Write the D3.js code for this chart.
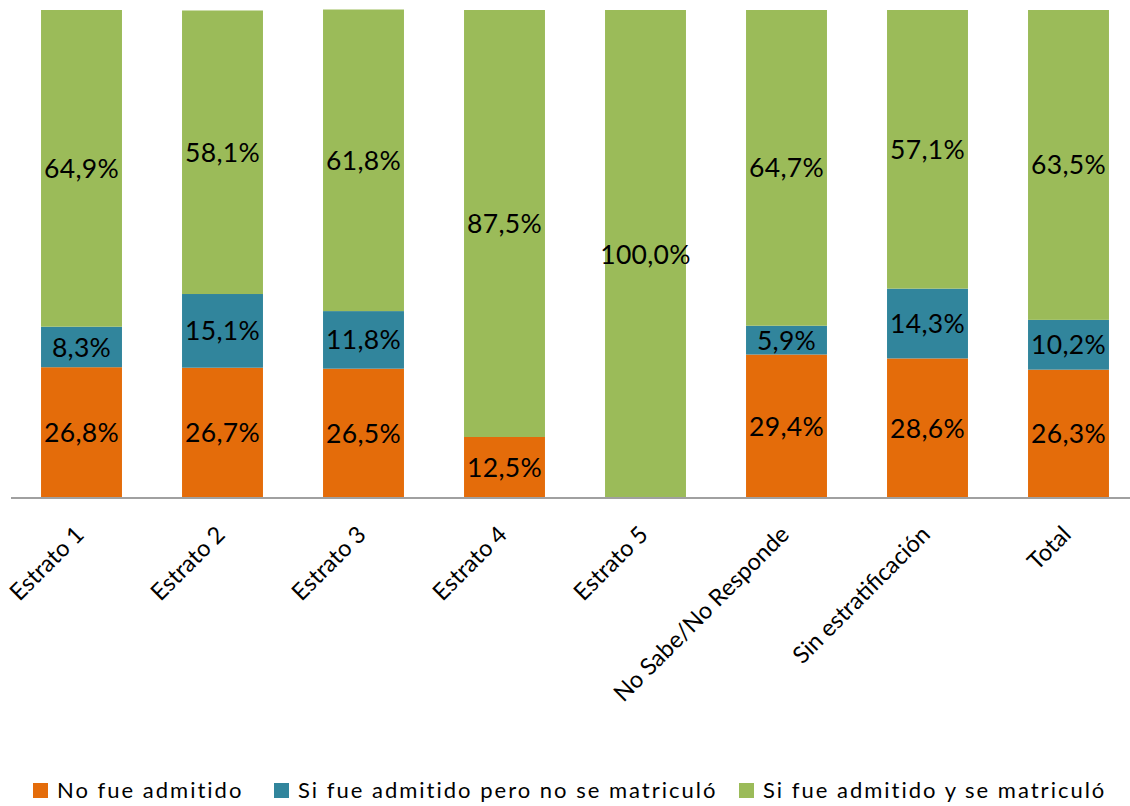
<!DOCTYPE html>
<html><head><meta charset="utf-8">
<script src="https://d3js.org/d3.v7.min.js"></script>
<style>
html,body{margin:0;padding:0;background:#fff;}
svg{display:block;font-family:Lato,"Noto Sans",sans-serif;}
</style></head>
<body>
<svg id="c" width="1130" height="806"></svg>
<script>
const categories = ["Estrato 1","Estrato 2","Estrato 3","Estrato 4","Estrato 5","No Sabe/No Responde","Sin estratificación","Total"];
const seriesNames = ["No fue admitido","Si fue admitido pero no se matriculó","Si fue admitido y se matriculó"];
const noAdmitido = [26.8,26.7,26.5,12.5,0,29.4,28.6,26.3];
const admitidoNoMatriculo = [8.3,15.1,11.8,0,0,5.9,14.3,10.2];
const admitidoMatriculo = [64.9,58.1,61.8,87.5,100,64.7,57.1,63.5];
const colors = ["#E46C0A","#31859C","#9BBB59"];

const seriesValues = [noAdmitido, admitidoNoMatriculo, admitidoMatriculo];
const table = categories.map((c,i)=>{const o={cat:c}; seriesNames.forEach((s,j)=>o[s]=seriesValues[j][i]); return o;});
const stacked = d3.stack().keys(seriesNames)(table);

const svg = d3.select("#c");
const x = d3.scaleBand().domain(categories).range([11,1139]).paddingInner(0.426).paddingOuter(0.213);
const y = d3.scaleLinear().domain([0,100]).range([498,10]);

const g = svg.append("g");
stacked.forEach((layer,j)=>{
  g.selectAll(null).data(layer).enter().append("rect")
    .attr("x",d=>x(d.data.cat)).attr("width",x.bandwidth())
    .attr("y",d=>y(d[1])).attr("height",d=>y(d[0])-y(d[1]))
    .attr("fill",colors[j]);
});
stacked.forEach((layer,j)=>{
  g.selectAll(null).data(layer.filter(d=>d[1]-d[0]>0)).enter().append("text")
    .attr("x",d=>x(d.data.cat)+x.bandwidth()/2)
    .attr("y",d=>y((d[0]+d[1])/2))
    .attr("dy","0.36em")
    .attr("text-anchor","middle")
    .attr("font-size",26.5).attr("letter-spacing","0.3px").attr("fill","#000")
    .text(d=>(d[1]-d[0]).toFixed(1).replace(".",",")+"%");
});

// axis
const ax = svg.append("g").attr("transform","translate(0,498)")
  .call(d3.axisBottom(x).tickSize(0).tickPadding(0));
ax.select(".domain").attr("stroke","#a0a0a0").attr("stroke-width",2).attr("d","M11,0H1139");
ax.selectAll(".tick text")
  .attr("font-size",23.5).attr("font-family","Lato,'Noto Sans',sans-serif").attr("fill","#000")
  .attr("text-anchor","end")
  .attr("y",0).attr("dy",0)
  .attr("transform","translate(4,38) rotate(-45)");

// legend
const legend = svg.append("g").attr("transform","translate(0,798)");
const legX = [33,274,739];
seriesNames.forEach((s,j)=>{
  const lg = legend.append("g").attr("transform",`translate(${legX[j]},0)`);
  lg.append("rect").attr("x",0).attr("y",-15).attr("width",15).attr("height",15).attr("fill",colors[j]);
  lg.append("text").attr("x",24).attr("y",0).attr("font-size",22).attr("letter-spacing","2px").attr("fill","#000").text(s);
});
</script>
</body></html>
